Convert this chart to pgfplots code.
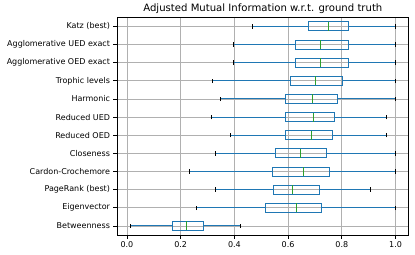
\documentclass[border=0pt]{standalone}
\usepackage{fontspec}
\setmainfont{DejaVu Sans}
\usepackage{pgfplots}
\pgfplotsset{compat=1.18}
\usepgfplotslibrary{statistics}
\definecolor{c0}{HTML}{1F77B4}
\definecolor{c2}{HTML}{2CA02C}
\definecolor{gridc}{HTML}{B0B0B0}
\pgfplotsset{
  mybox/.style={
    boxplot/draw direction=x,
    boxplot/box extend=0.5,
    boxplot/whisker extend=0.25,
    boxplot/every box/.style={draw=c0, line width=0.9bp},
    boxplot/every median/.style={draw=c2, line width=0.9bp},
    boxplot/draw/lower whisker/.code={%
      \draw[c0, line width=0.9bp] (boxplot cs:\pgfplotsboxplotvalue{lower whisker}) -- (boxplot cs:\pgfplotsboxplotvalue{lower quartile});
      \draw[black, line width=0.9bp] (boxplot whisker cs:\pgfplotsboxplotvalue{lower whisker},0) -- (boxplot whisker cs:\pgfplotsboxplotvalue{lower whisker},1);
    },
    boxplot/draw/upper whisker/.code={%
      \draw[c0, line width=0.9bp] (boxplot cs:\pgfplotsboxplotvalue{upper quartile}) -- (boxplot cs:\pgfplotsboxplotvalue{upper whisker});
      \draw[black, line width=0.9bp] (boxplot whisker cs:\pgfplotsboxplotvalue{upper whisker},0) -- (boxplot whisker cs:\pgfplotsboxplotvalue{upper whisker},1);
    },
  }
}
\begin{document}
\begin{tikzpicture}
\useasboundingbox (-117bp,-20bp) rectangle (298bp,235bp);
\begin{axis}[
  at={(0,0)}, anchor=south west,
  scale only axis, width=291.7bp, height=217.7bp,
  xmin=-0.037, xmax=1.049, ymin=0.5, ymax=12.5,
  xtick={0,0.2,0.4,0.6,0.8,1.0},
  xticklabel style={/pgf/number format/fixed, /pgf/number format/fixed zerofill, /pgf/number format/precision=1},
  /pgf/number format/assume math mode=true,
  ytick={1,...,12},
  yticklabels={Betweenness,Eigenvector,PageRank (best),Cardon-Crochemore,Closeness,Reduced OED,Reduced UED,Harmonic,Trophic levels,Agglomerative OED exact,Agglomerative UED exact,Katz (best)},
  tick label style={font=\fontsize{8bp}{9.6bp}\selectfont},
  xtick pos=lower, ytick pos=left,
  tick align=outside, major tick length=3.5bp,
  every tick/.style={black, line width=0.8bp},
  grid=major,
  major grid style={gridc, line width=0.8bp},
  axis line style={line width=0.8bp},
  every axis title shift=0pt,
  title={Adjusted Mutual Information w.r.t. ground truth},
  title style={font=\fontsize{10.1bp}{11.5bp}\selectfont, at={(0.5,1)}, anchor=base, yshift=5.5bp},
  mybox,
]
% lower whisker, Q1, median, Q3, upper whisker
\addplot[boxplot prepared={draw position=12, lower whisker=0.466, lower quartile=0.677, median=0.749, upper quartile=0.824, upper whisker=1.0}] coordinates {};
\addplot[boxplot prepared={draw position=11, lower whisker=0.397, lower quartile=0.628, median=0.722, upper quartile=0.826, upper whisker=1.0}] coordinates {};
\addplot[boxplot prepared={draw position=10, lower whisker=0.397, lower quartile=0.628, median=0.722, upper quartile=0.826, upper whisker=1.0}] coordinates {};
\addplot[boxplot prepared={draw position=9, lower whisker=0.318, lower quartile=0.607, median=0.703, upper quartile=0.803, upper whisker=1.0}] coordinates {};
\addplot[boxplot prepared={draw position=8, lower whisker=0.350, lower quartile=0.590, median=0.690, upper quartile=0.784, upper whisker=1.0}] coordinates {};
\addplot[boxplot prepared={draw position=7, lower whisker=0.315, lower quartile=0.590, median=0.695, upper quartile=0.772, upper whisker=0.968}] coordinates {};
\addplot[boxplot prepared={draw position=6, lower whisker=0.385, lower quartile=0.590, median=0.686, upper quartile=0.764, upper whisker=0.968}] coordinates {};
\addplot[boxplot prepared={draw position=5, lower whisker=0.330, lower quartile=0.552, median=0.646, upper quartile=0.744, upper whisker=1.0}] coordinates {};
\addplot[boxplot prepared={draw position=4, lower whisker=0.232, lower quartile=0.543, median=0.656, upper quartile=0.753, upper whisker=1.0}] coordinates {};
\addplot[boxplot prepared={draw position=3, lower whisker=0.330, lower quartile=0.547, median=0.617, upper quartile=0.715, upper whisker=0.907}] coordinates {};
\addplot[boxplot prepared={draw position=2, lower whisker=0.257, lower quartile=0.516, median=0.632, upper quartile=0.723, upper whisker=1.0}] coordinates {};
\addplot[boxplot prepared={draw position=1, lower whisker=0.012, lower quartile=0.169, median=0.221, upper quartile=0.284, upper whisker=0.421}] coordinates {};
\end{axis}
\end{tikzpicture}
\end{document}
